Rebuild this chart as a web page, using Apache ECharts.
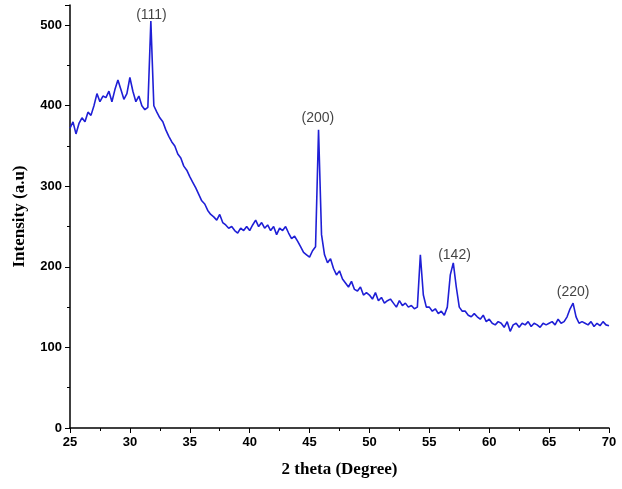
<!DOCTYPE html>
<html><head><meta charset="utf-8">
<script src="https://cdn.jsdelivr.net/npm/echarts@6/dist/echarts.min.js"></script>
<style>html,body{margin:0;padding:0;background:#fff}#c{width:622px;height:489px}</style>
</head><body><div id="c"></div>
<script>
const thetaStart = 25, thetaStep = 0.25;
const intensity = [
372,380,365,378, 385,380,392,388, 400,415,405,412, 410,418,405,420,
432,420,408,415, 435,418,405,412, 400,395,398,505, 400,392,385,380,
370,362,355,350, 340,335,325,320, 312,305,298,290, 282,278,270,265,
262,258,265,255, 252,248,250,245, 242,248,245,250, 245,252,258,250,
255,248,252,245, 250,240,248,245, 250,242,235,238, 232,225,218,215,
212,220,225,370, 240,215,205,210, 198,190,195,185, 180,175,182,172,
170,175,165,168, 165,160,168,158, 162,155,158,160, 155,150,158,152,
155,150,152,148, 150,215,165,150, 150,145,148,142, 145,140,150,190,
205,175,150,145, 145,140,138,142, 138,135,140,132, 135,130,128,132,
130,125,132,120, 128,130,125,130, 128,132,126,130, 128,125,130,128,
130,132,128,135, 130,132,138,148, 155,138,130,132, 130,128,132,126,
130,127,132,128, 127];
const peakLabels = ['(111)','(200)','(142)','(220)'];
const peakTheta = [31.8, 45.7, 57.1, 67.0];
const peakLabelY = [504, 376, 206, 160];
const xTicks = [25,30,35,40,45,50,55,60,65,70];

const line = intensity.map((v,i)=>[thetaStart+i*thetaStep, v]);
const chart = echarts.init(document.getElementById('c'));
const tickFont = {fontFamily:'Liberation Sans',fontWeight:'bold',fontSize:13,color:'#000'};
chart.setOption({
  animation:false,
  grid:{left:70,right:13,top:5,bottom:61},
  xAxis:{type:'value',min:25,max:70,interval:5,
    name:'2 theta (Degree)',nameLocation:'middle',nameGap:33,
    nameTextStyle:{fontFamily:'Liberation Serif',fontWeight:'bold',fontSize:17,color:'#000'},
    axisLine:{lineStyle:{color:'#000',width:1.5}},axisTick:{lineStyle:{color:'#000'}},
    minorTick:{show:true,splitNumber:2,lineStyle:{color:'#000'}},
    splitLine:{show:false},axisLabel:tickFont},
  yAxis:{type:'value',min:0,max:525,interval:100,
    name:'Intensity (a.u)',nameLocation:'middle',nameGap:42,
    nameTextStyle:{fontFamily:'Liberation Serif',fontWeight:'bold',fontSize:17,color:'#000'},
    axisLine:{show:true,lineStyle:{color:'#000',width:1.5}},axisTick:{show:true,lineStyle:{color:'#000'}},
    minorTick:{show:true,splitNumber:2,lineStyle:{color:'#000'}},
    splitLine:{show:false},axisLabel:Object.assign({showMaxLabel:false},tickFont)},
  series:[
    {type:'line',data:line,symbol:'none',lineStyle:{color:'#1f1fd6',width:1.6}},
    {type:'scatter',symbolSize:0,data:peakTheta.map((t,i)=>({value:[t,peakLabelY[i]],name:peakLabels[i]})),
     label:{show:true,position:'top',formatter:p=>p.name,fontFamily:'Liberation Sans',fontSize:14,color:'#111',distance:0}}
  ]
});
</script></body></html>
